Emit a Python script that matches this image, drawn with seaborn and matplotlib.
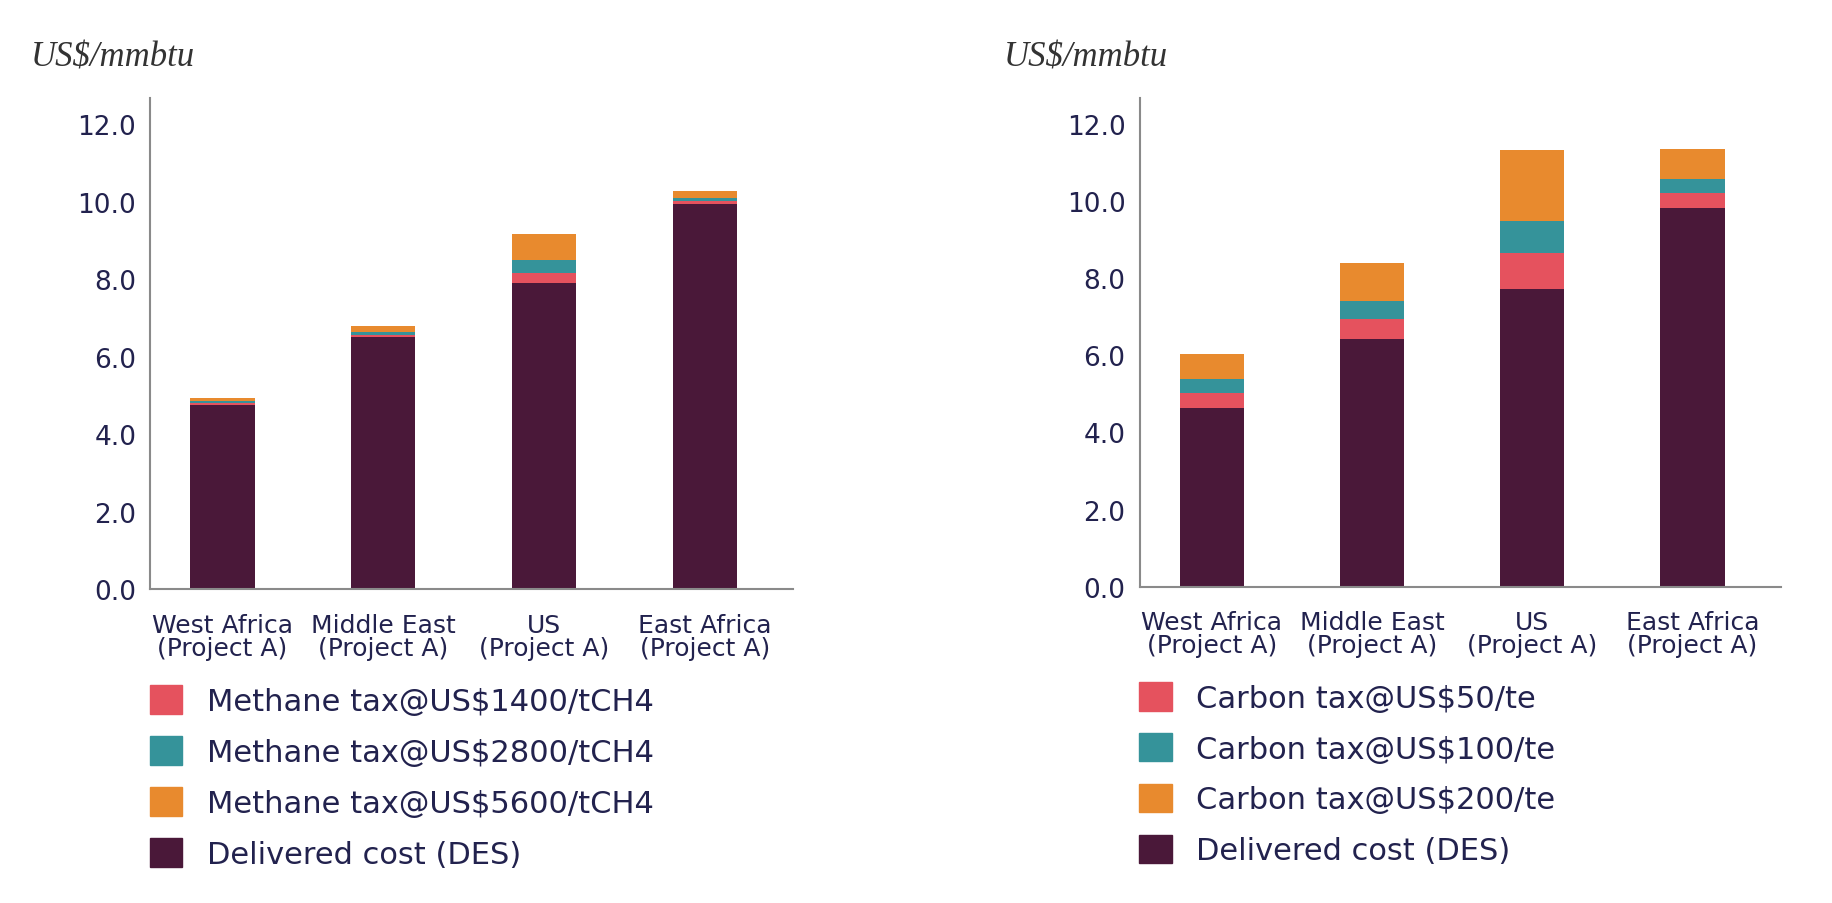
import numpy as np
import pandas as pd
import matplotlib
matplotlib.use("Agg")
from matplotlib import pyplot as plt
from matplotlib.patches import Patch
import seaborn as sns

categories = ["West Africa\n(Project A)", "Middle East\n(Project A)", "US\n(Project A)", "East Africa\n(Project A)"]

# left panel: methane tax
delivered_m = [4.75, 6.50, 7.90, 9.95]
methane_1400 = [0.05, 0.07, 0.26, 0.08]
methane_2800 = [0.05, 0.07, 0.33, 0.08]
methane_5600 = [0.09, 0.15, 0.68, 0.17]
methane_labels = ["Methane tax@US\\$1400/tCH4", "Methane tax@US\\$2800/tCH4",
                  "Methane tax@US\\$5600/tCH4", "Delivered cost (DES)"]

# right panel: carbon tax
delivered_c = [4.64, 6.42, 7.73, 9.82]
carbon_50 = [0.38, 0.52, 0.92, 0.40]
carbon_100 = [0.36, 0.47, 0.83, 0.36]
carbon_200 = [0.67, 0.98, 1.85, 0.78]
carbon_labels = ["Carbon tax@US\\$50/te", "Carbon tax@US\\$100/te",
                 "Carbon tax@US\\$200/te", "Delivered cost (DES)"]

DARK = "#4a1839"
RED = "#e5525e"
TEAL = "#35939a"
ORANGE = "#e88a2e"
TEXT = "#22224e"

sns.set_style("white")
plt.rcParams["font.family"] = ["DejaVu Sans"]


def stacked(ax, base, t1, t2, t3, labels):
    df = pd.DataFrame({"cat": categories, "base": base, "t1": t1, "t2": t2, "t3": t3})
    df["c1"] = df["base"] + df["t1"]
    df["c2"] = df["c1"] + df["t2"]
    df["c3"] = df["c2"] + df["t3"]
    # draw tallest first so the lower layers cover it
    for col, color in [("c3", ORANGE), ("c2", TEAL), ("c1", RED), ("base", DARK)]:
        sns.barplot(df, x="cat", y=col, color=color, width=0.4, ax=ax,
                    saturation=1, linewidth=0)
    ax.set_ylim(0, 12.67)
    ax.set_xlim(-0.45, 3.55)
    ax.set_yticks(np.arange(0, 13, 2))
    ax.set_yticklabels([f"{v:.1f}" for v in np.arange(0, 13, 2)],
                       fontsize=19, color=TEXT)
    ax.set_xticks(range(4))
    ax.set_xticklabels(categories, fontsize=18, color=TEXT, linespacing=0.95)
    ax.tick_params(axis="y", length=0, pad=10)
    ax.tick_params(axis="x", length=0, pad=17)
    ax.set_xlabel("")
    ax.set_ylabel("")
    sns.despine(ax=ax)
    for s in ["left", "bottom"]:
        ax.spines[s].set_color("#8a8a8a")
        ax.spines[s].set_linewidth(1.5)

    handles = [Patch(color=c) for c in [RED, TEAL, ORANGE, DARK]]
    ax.legend(handles, labels, loc="upper left", bbox_to_anchor=(-0.02, -0.17),
              frameon=False, fontsize=22, labelcolor=TEXT,
              handlelength=1.07, handleheight=1.07, handletextpad=0.8,
              labelspacing=0.66, borderaxespad=0)


fig = plt.figure(figsize=(18.32, 9.04), dpi=100)
ax1 = fig.add_axes([0.082, 0.347, 0.351, 0.543])
ax2 = fig.add_axes([0.622, 0.350, 0.350, 0.540])

stacked(ax1, delivered_m, methane_1400, methane_2800, methane_5600, methane_labels)
stacked(ax2, delivered_c, carbon_50, carbon_100, carbon_200, carbon_labels)

fig.text(0.017, 0.936, "US\\$/mmbtu", fontsize=25, style="italic",
         family="Liberation Serif", color="#333333", va="center")
fig.text(0.548, 0.936, "US\\$/mmbtu", fontsize=25, style="italic",
         family="Liberation Serif", color="#333333", va="center")

fig.savefig("out.png", dpi=100, facecolor="white")
